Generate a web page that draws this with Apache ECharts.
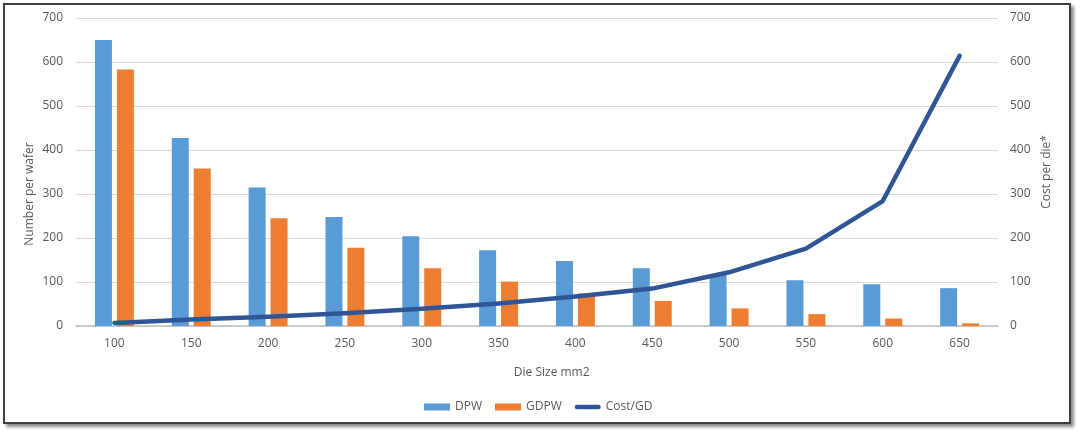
<!DOCTYPE html>
<html>
<head>
<meta charset="utf-8">
<script src="https://cdn.jsdelivr.net/npm/echarts@6/dist/echarts.min.js"></script>
<style>
html,body{margin:0;padding:0;background:#fff;width:1080px;height:434px;overflow:hidden;}
#frame{position:absolute;left:3px;top:3px;width:1064px;height:417px;border:2px solid #404040;background:#fff;box-shadow:3px 3px 3px rgba(0,0,0,0.45);}
#chart{width:1064px;height:417px;}
</style>
</head>
<body>
<div id="frame"><div id="chart"></div></div>
<script>
const categories = ['100','150','200','250','300','350','400','450','500','550','600','650'];
const dpw = [650, 427, 315, 248, 204, 172, 148, 131, 116, 104, 95, 86];
const gdpw = [583, 358, 245, 178, 131, 101, 74, 57, 40, 27, 17, 6];
const costPerGD = [7, 15, 21, 29, 39, 51, 67, 85, 122, 176, 284, 614];
const yTicks = [0, 100, 200, 300, 400, 500, 600, 700];

const FONT = '"Open Sans", "Liberation Sans", sans-serif';
const TXT = '#595959';
const LINE_ICON = 'path://M0,0 M26,7 M2.25,1.25 L23.75,1.25 A2.25,2.25 0 0 1 23.75,5.75 L2.25,5.75 A2.25,2.25 0 0 1 2.25,1.25 Z';

const chart = echarts.init(document.getElementById('chart'), null, {renderer: 'canvas'});
chart.setOption({
  animation: false,
  textStyle: {fontFamily: FONT, color: TXT},
  grid: {left: 71, right: 71, top: 13, bottom: 96, containLabel: false},
  legend: {
    left: 414, top: 391,
    itemWidth: 26, itemHeight: 7, itemGap: 13,
    textStyle: {fontFamily: FONT, fontSize: 12, color: TXT},
    data: [
      {name: 'DPW', icon: 'rect'},
      {name: 'GDPW', icon: 'rect'},
      {name: 'Cost/GD', icon: LINE_ICON, itemStyle: {color: '#2F5597'}}
    ]
  },
  xAxis: {
    type: 'category',
    data: categories,
    axisTick: {show: false},
    axisLine: {lineStyle: {color: '#BFBFBF', width: 1.5}},
    axisLabel: {fontFamily: FONT, fontSize: 12, color: TXT, margin: 12}
  },
  yAxis: [
    {
      type: 'value', min: yTicks[0], max: yTicks[yTicks.length - 1], interval: 100,
      axisLine: {show: false}, axisTick: {show: false},
      axisLabel: {fontFamily: FONT, fontSize: 12, color: TXT, margin: 13},
      splitLine: {lineStyle: {color: '#D9D9D9', width: 1}}
    },
    {
      type: 'value', min: yTicks[0], max: yTicks[yTicks.length - 1], interval: 100,
      axisLine: {show: false}, axisTick: {show: false},
      axisLabel: {fontFamily: FONT, fontSize: 12, color: TXT, margin: 12},
      splitLine: {show: false}
    }
  ],
  graphic: [
    {type: 'text', x: 546.7, y: 367.7, style: {text: 'Die Size mm2', font: '12px ' + FONT, fill: TXT, textAlign: 'center', textVerticalAlign: 'middle'}},
    {type: 'text', x: 25, y: 189, rotation: Math.PI / 2, style: {text: 'Number per wafer', font: '12px ' + FONT, fill: TXT, textAlign: 'center', textVerticalAlign: 'middle'}},
    {type: 'text', x: 1041.7, y: 167, rotation: Math.PI / 2, style: {text: 'Cost per die*', font: '12px ' + FONT, fill: TXT, textAlign: 'center', textVerticalAlign: 'middle'}}
  ],
  series: [
    {name: 'DPW', type: 'bar', data: dpw, barWidth: 17, barGap: '29%', itemStyle: {color: '#5B9BD5'}},
    {name: 'GDPW', type: 'bar', data: gdpw, barWidth: 17, itemStyle: {color: '#ED7D31'}},
    {name: 'Cost/GD', type: 'line', yAxisIndex: 1, data: costPerGD, showSymbol: false, symbol: 'none',
     lineStyle: {color: '#2F5597', width: 4.5, cap: 'round', join: 'round'}, itemStyle: {color: '#2F5597'}, z: 5}
  ]
});
</script>
</body>
</html>
